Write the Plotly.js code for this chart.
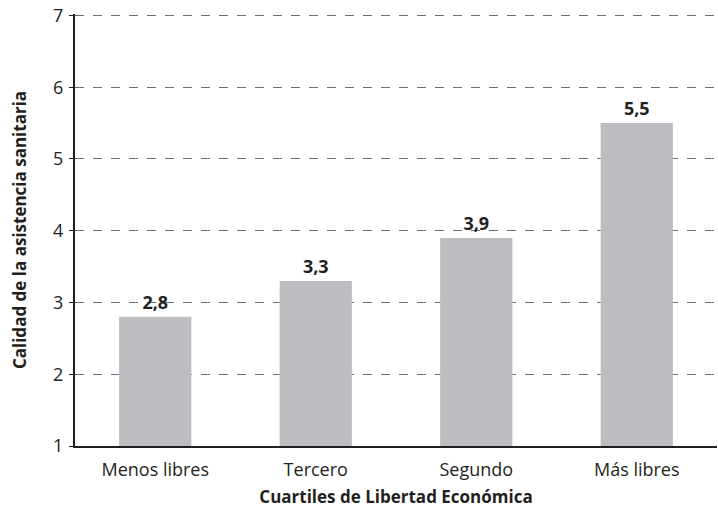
<!DOCTYPE html>
<html>
<head>
<meta charset="utf-8">
<script src="https://cdn.plot.ly/plotly-3.0.1.min.js"></script>
<style>
  body { margin: 0; background: #fff; }
  #grafica { width: 718px; height: 516px; }
</style>
</head>
<body>
<div id="grafica"></div>
<script>
const cuartiles = ['Menos libres', 'Tercero', 'Segundo', 'Más libres'];
const calidad = [2.8, 3.3, 3.9, 5.5];
const ticksY = [1, 2, 3, 4, 5, 6, 7];

const fuente = '"Open Sans", "Noto Sans", sans-serif';

const barras = {
    type: 'bar',
    x: cuartiles,
    y: calidad,
    width: 0.45,
    marker: { color: '#bcbdc1' },
    texttemplate: '<b>%{y:.1f}</b>',
    textposition: 'outside',
    cliponaxis: false,
    textfont: { family: fuente, size: 18, color: '#231f20' },
    hoverinfo: 'skip'
};

const layout = {
    width: 718,
    height: 516,
    // el rango llega un poco por encima de 7 para que se dibuje la línea de 7
    margin: { l: 75, r: 1, t: 14, b: 70 },
    separators: ',.',
    paper_bgcolor: '#fff',
    plot_bgcolor: '#fff',
    showlegend: false,
    font: { family: fuente, size: 18, color: '#231f20' },
    xaxis: {
        showline: true,
        linecolor: '#231f20',
        linewidth: 2,
        ticks: '',
        ticklabelstandoff: 6,
        tickfont: { size: 18 },
        title: { text: '<b>Cuartiles de Libertad Económica</b>', font: { size: 17 }, standoff: 12 }
    },
    yaxis: {
        range: [1, 7.02],
        tickvals: ticksY,
        showline: true,
        linecolor: '#231f20',
        linewidth: 2,
        ticks: 'outside',
        ticklen: 4,
        tickcolor: '#231f20',
        ticklabelstandoff: 2,
        tickfont: { size: 18 },
        showgrid: true,
        gridcolor: '#6d6e71',
        griddash: 'dash',
        gridwidth: 1,
        zeroline: false,
        title: { text: '<b>Calidad de la asistencia sanitaria</b>', font: { size: 17 }, standoff: 22 }
    },
    bargap: 0.55
};

Plotly.newPlot('grafica', [barras], layout, { displayModeBar: false, staticPlot: true });
</script>
</body>
</html>
